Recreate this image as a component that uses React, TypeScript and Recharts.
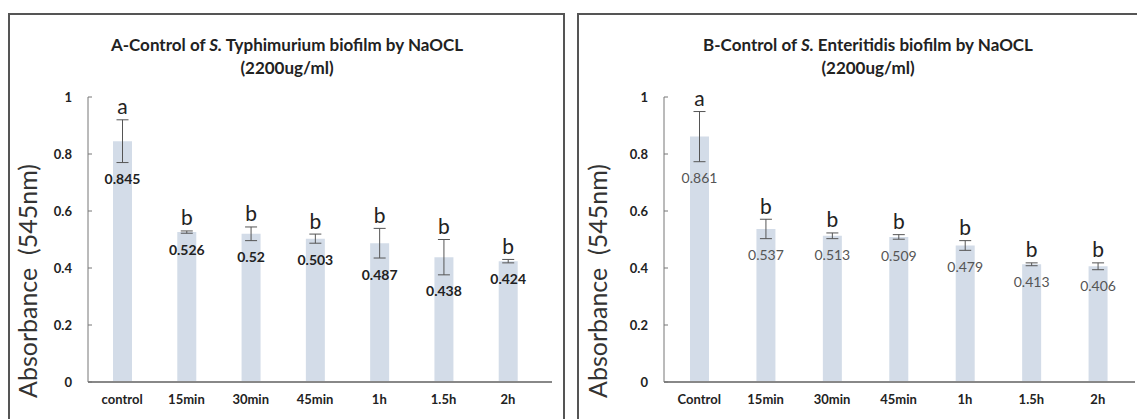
import React from 'react';
import { BarChart, Bar, XAxis, YAxis, ErrorBar, LabelList } from 'recharts';

// --- Data ---
const timesA = ['control', '15min', '30min', '45min', '1h', '1.5h', '2h'];
const meansA = [0.845, 0.526, 0.52, 0.503, 0.487, 0.438, 0.424];
const errsA = [0.075, 0.004, 0.024, 0.016, 0.052, 0.062, 0.006];
const lettersA = ['a', 'b', 'b', 'b', 'b', 'b', 'b'];

const timesB = ['Control', '15min', '30min', '45min', '1h', '1.5h', '2h'];
const meansB = [0.861, 0.537, 0.513, 0.509, 0.479, 0.413, 0.406];
const errsB = [0.088, 0.034, 0.01, 0.008, 0.017, 0.005, 0.012];
const lettersB = ['a', 'b', 'b', 'b', 'b', 'b', 'b'];

const yTicks = [0, 0.2, 0.4, 0.6, 0.8, 1];

type Row = { time: string; mean: number; err: number; letter: string };

const build = (times: string[], means: number[], errs: number[], letters: string[]): Row[] =>
  times.map((t, i) => ({ time: t, mean: means[i], err: errs[i], letter: letters[i] }));

const dataA = build(timesA, meansA, errsA, lettersA);
const dataB = build(timesB, meansB, errsB, lettersB);

const FONT = 'Lato, "Liberation Sans", sans-serif';
const BAR = '#d3dce8';

// letter above the error bar, value below it
function makeLabel(data: Row[], valueStyle: { weight: number; color: string }) {
  return (p: any) => {
    const vb = p.viewBox || {};
    const x = p.x ?? vb.x;
    const y = p.y ?? vb.y;
    const w = p.width ?? vb.width;
    const h = p.height ?? vb.height;
    const row = data[p.index];
    if (!row || x == null) return null;
    const perUnit = h / row.mean;
    const cx = x + w / 2;
    const top = y - row.err * perUnit;
    const bottom = y + row.err * perUnit;
    return (
      <g>
        <text x={cx} y={top - 14} textAnchor="middle" dominantBaseline="central" fontSize={21} fill="#222" fontFamily={FONT}>
          {row.letter}
        </text>
        <text x={cx} y={bottom + 16} textAnchor="middle" dominantBaseline="central" fontSize={14} fontWeight={valueStyle.weight} fill={valueStyle.color} fontFamily={FONT}>
          {row.mean}
        </text>
      </g>
    );
  };
}

const tickStyle = { fontSize: 13, fontWeight: 700, fill: '#222', fontFamily: FONT };

function Panel({ data, valueStyle, width, margin, padRight }: {
  data: Row[];
  valueStyle: { weight: number; color: string };
  width: number;
  margin: { top: number; right: number; left: number; bottom: number };
  padRight: number;
}) {
  return (
    <BarChart width={width} height={419} data={data} margin={margin}>
      <XAxis
        dataKey="time"
        height={37}
        tick={tickStyle}
        tickLine={false}
        tickSize={0}
        tickMargin={13}
        padding={{ left: 2, right: padRight }}
        axisLine={{ stroke: '#888', strokeWidth: 2 }}
      />
      <YAxis
        width={40}
        domain={[0, 1]}
        ticks={yTicks}
        tickFormatter={(v: number) => String(v)}
        tick={tickStyle}
        tickSize={-4}
        tickMargin={20}
        tickLine={{ stroke: '#777' }}
        axisLine={{ stroke: '#777' }}
      />
      <Bar dataKey="mean" fill={BAR} barSize={19} isAnimationActive={false}>
        <ErrorBar dataKey="err" width={6} stroke="#555" strokeWidth={1} isAnimationActive={false} />
        <LabelList dataKey="mean" content={makeLabel(data, valueStyle)} />
      </Bar>
    </BarChart>
  );
}

export default function App() {
  return (
    <div style={{ position: 'absolute', left: 0, top: 0, width: 1137, height: 419, overflow: 'hidden', background: '#fff' }}>
      <div style={{ position: 'absolute', left: 8, top: 13, width: 557, height: 430, border: '2px solid #555', boxSizing: 'border-box' }} />
      <div style={{ position: 'absolute', left: 577, top: 13, width: 600, height: 430, border: '2px solid #555', boxSizing: 'border-box' }} />

      <div style={{ position: 'absolute', left: 0, top: 0 }}>
        <Panel data={dataA} valueStyle={{ weight: 700, color: '#222' }} width={565}
          margin={{ top: 97, right: 13, left: 48, bottom: 0 }} padRight={12} />
      </div>
      <div style={{ position: 'absolute', left: 570, top: 0 }}>
        <Panel data={dataB} valueStyle={{ weight: 400, color: '#555' }} width={567}
          margin={{ top: 97, right: 2, left: 54, bottom: 0 }} padRight={4} />
      </div>

      <svg width={1137} height={419} style={{ position: 'absolute', left: 0, top: 0, pointerEvents: 'none' }}>
        <g fontFamily={FONT} fontWeight={700} fontSize={17} fill="#222" textAnchor="middle">
          <text x={287} y={51}>A-Control of <tspan fontStyle="italic">S.</tspan> Typhimurium biofilm by NaOCL</text>
          <text x={287} y={74}>(2200ug/ml)</text>
          <text x={868} y={51}>B-Control of <tspan fontStyle="italic">S.</tspan> Enteritidis biofilm by NaOCL</text>
          <text x={868} y={74}>(2200ug/ml)</text>
        </g>
        <g fontFamily={FONT} fontSize={25} fill="#333" textAnchor="middle">
          <text xmlSpace="preserve" transform="translate(27,281) rotate(-90)" dominantBaseline="central">Absorbance  (545nm)</text>
          <text xmlSpace="preserve" transform="translate(597,281) rotate(-90)" dominantBaseline="central">Absorbance  (545nm)</text>
        </g>
      </svg>
    </div>
  );
}
